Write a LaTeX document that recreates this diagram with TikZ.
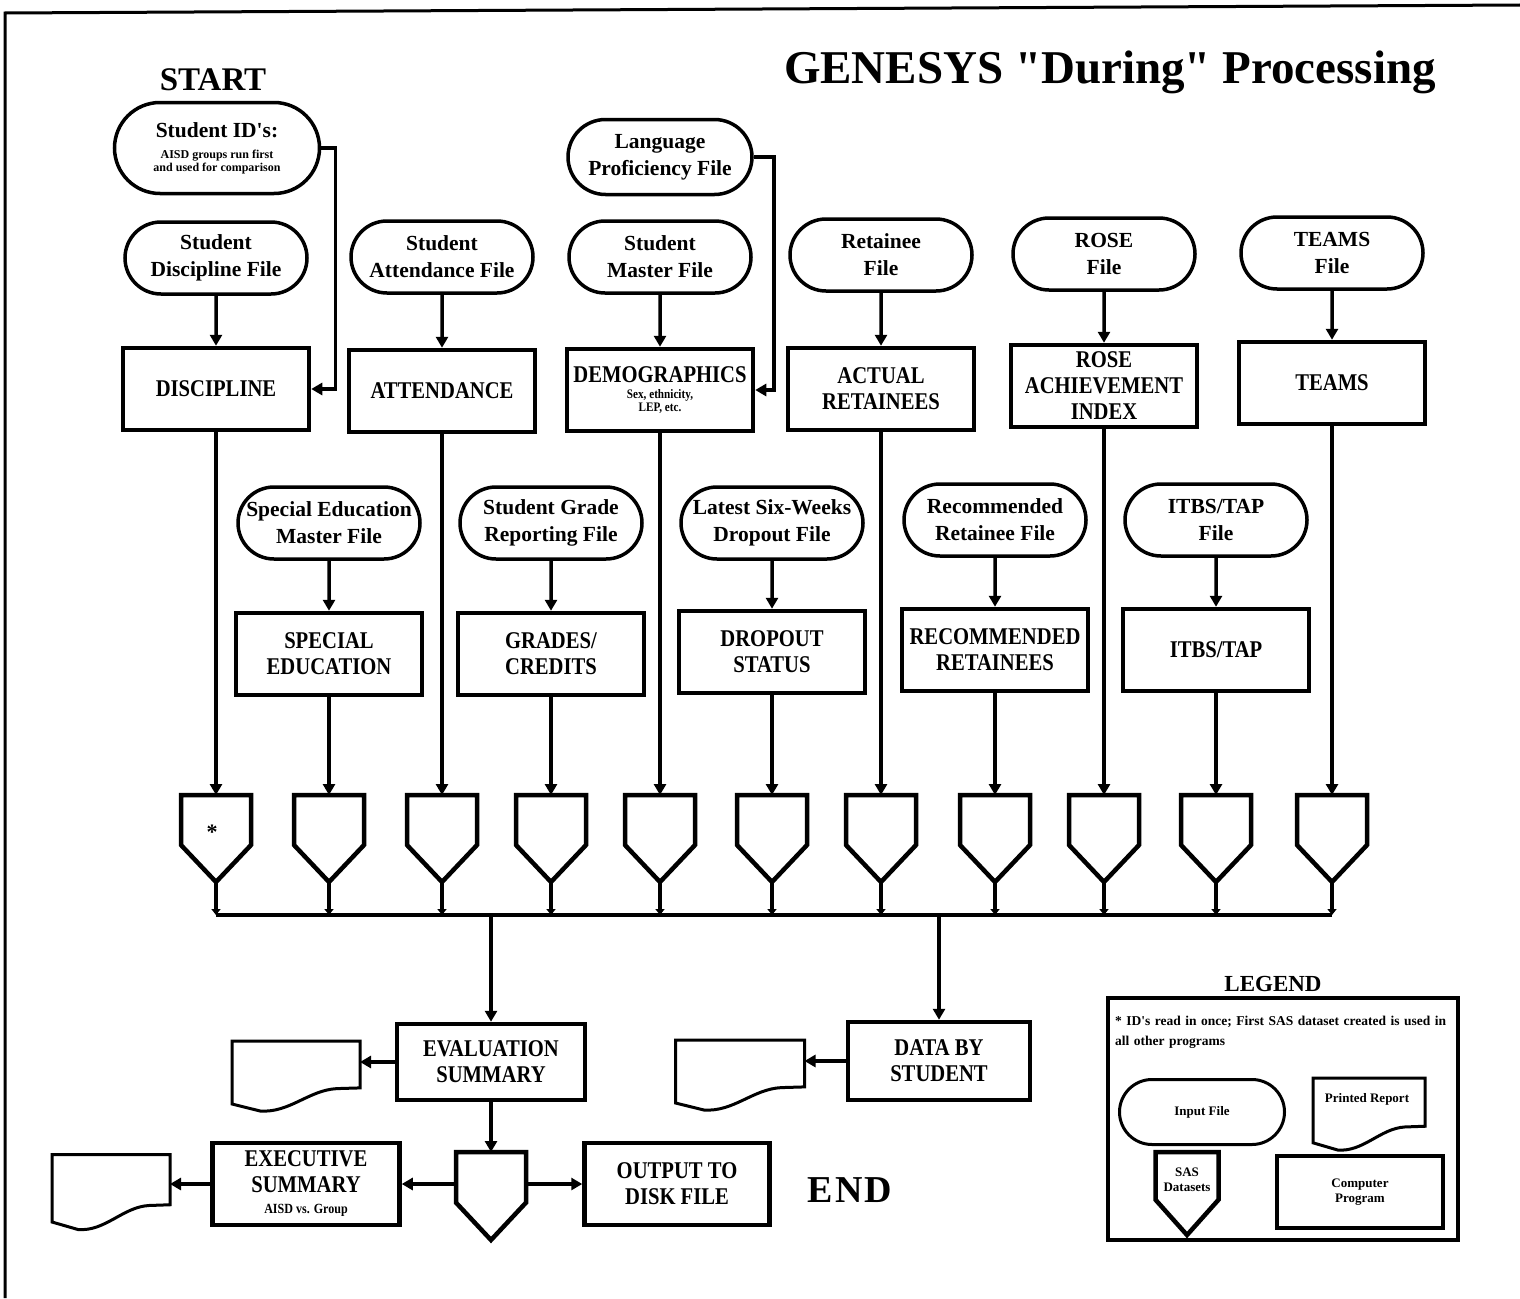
\documentclass[tikz,border=0pt]{standalone}
\usepackage{fontspec}
\setmainfont{Liberation Serif}
\newfontfamily\plainfont{Liberation Serif}
\newfontfamily\condfont[FakeStretch=0.86]{Liberation Serif}
\usetikzlibrary{shapes.misc,arrows.meta,calc}
\newcommand\smalltxt[2][12]{{\fontsize{#1}{#1}\selectfont #2}}
\newcommand\reportshape[3]{%
  \draw[repline, shift={(#1.north west)}, xscale=#2, yscale=#3]
    (0,0) -- (1,0) -- (1,0.67) -- (0.82,0.68)
    .. controls (0.6,0.70) and (0.45,1.03) .. (0.22,1.0) -- (0,0.9) -- cycle;}
\newcommand\datasetshape[3]{%
  \draw[dsline, shift={(#1.north west)}, xscale=#2, yscale=#3]
    (0,0) -- (1,0) -- (1,0.575) -- (0.5,1) -- (0,0.575) -- cycle;}
\tikzset{
  infile/.style={rounded rectangle, draw, line width=3.5pt, minimum width=182pt,
    minimum height=72pt, inner sep=0pt, align=center,
    font=\bfseries\fontsize{21.5}{27}\selectfont},
  prog/.style={rectangle, draw, line width=4.5pt, minimum width=186pt,
    minimum height=82pt, inner sep=0pt, align=center,
    font=\condfont\bfseries\fontsize{24}{26}\selectfont},
  holder/.style={rectangle, draw=none, inner sep=0pt, outer sep=0pt},
  conn/.style={line width=3.5pt, -{Triangle[length=11pt,width=12pt]}},
  smallconn/.style={line width=3.5pt, -{Triangle[length=6pt,width=9pt]}},
  plain/.style={line width=3.5pt},
  dsline/.style={line width=4.5pt, line join=miter},
  repline/.style={line width=3pt, line join=miter},
  legtext/.style={font=\bfseries\fontsize{13}{15}\selectfont},
}
\begin{document}
\plainfont
\begin{tikzpicture}[x=1pt,y=-1pt]
\useasboundingbox (0,0) rectangle (1520,1298);
\draw[line width=3pt] (5,1298) -- (5,13) -- (1520,5);

% titles
\node[font=\bfseries\fontsize{47}{50}\selectfont] (title) at (1110,72) {GENESYS "During" Processing};
\node[font=\bfseries\fontsize{33}{36}\selectfont] (start) at (213,80) {START};
\node[font=\bfseries\fontsize{38}{40}\selectfont] (endtxt) at (850,1190) {E\kern2pt N\kern2pt D};

% row 1 input files
\node[infile, minimum width=205pt, minimum height=91pt] (sid) at (217,148)
  {Student ID's:\\[-6pt]\smalltxt{AISD groups run first}\\[-14pt]\smalltxt{and used for comparison}};
\node[infile, minimum width=184pt, minimum height=75pt] (lang) at (660,157) {Language\\Proficiency File};
\node[infile] (disf) at (216,258) {Student\\Discipline File};
\node[infile] (attf) at (442,257) {Student\\Attendance File};
\node[infile] (mstf) at (660,257) {Student\\Master File};
\node[infile] (retf) at (881,255) {Retainee\\File};
\node[infile] (rosf) at (1104,254) {ROSE\\File};
\node[infile] (tmsf) at (1332,253) {TEAMS\\File};

% row 1 programs
\node[prog] (disc) at (216,389) {DISCIPLINE};
\node[prog] (att) at (442,391) {ATTENDANCE};
\node[prog] (demo) at (660,390) {DEMOGRAPHICS\\[-10pt]\smalltxt[13]{Sex, ethnicity,}\\[-13pt]\smalltxt[13]{LEP, etc.}};
\node[prog] (act) at (881,389) {ACTUAL\\RETAINEES};
\node[prog] (rose) at (1104,386) {ROSE\\ACHIEVEMENT\\INDEX};
\node[prog] (teams) at (1332,383) {TEAMS};

% row 2 input files
\node[infile] (spef) at (329,523) {Special Education\\Master File};
\node[infile] (grdf) at (551,523) {Student Grade\\Reporting File};
\node[infile] (drpf) at (772,523) {Latest Six-Weeks\\Dropout File};
\node[infile] (rrtf) at (995,520) {Recommended\\Retainee File};
\node[infile] (itbf) at (1216,520) {ITBS/TAP\\File};

% row 2 programs
\node[prog] (spe) at (329,654) {SPECIAL\\EDUCATION};
\node[prog] (grd) at (551,654) {GRADES/\\CREDITS};
\node[prog] (drp) at (772,652) {DROPOUT\\STATUS};
\node[prog] (rrt) at (995,650) {RECOMMENDED\\RETAINEES};
\node[prog] (itb) at (1216,650) {ITBS/TAP};

% datasets
\foreach \n/\x in {ds1/216, ds2/329, ds3/442, ds4/551, ds5/660, ds6/772,
                   ds7/881, ds8/995, ds9/1104, ds10/1216, ds11/1332}{
  \node[holder, minimum width=70pt, minimum height=87pt, anchor=north] (\n) at (\x,795) {};
  \datasetshape{\n}{70}{87}
}
\node[font=\bfseries\fontsize{22}{22}\selectfont] (star) at (212,832) {*};

% connectors file -> program
\draw[conn] (disf) -- (disc);
\draw[conn] (attf) -- (att);
\draw[conn] (mstf) -- (demo);
\draw[conn] (retf) -- (act);
\draw[conn] (rosf) -- (rose);
\draw[conn] (tmsf) -- (teams);
\draw[conn] (spef) -- (spe);
\draw[conn] (grdf) -- (grd);
\draw[conn] (drpf) -- (drp);
\draw[conn] (rrtf) -- (rrt);
\draw[conn] (itbf) -- (itb);
\draw[conn] (sid.east) -- ++(14,0) |- (disc.east);
\draw[conn] (lang.east) -- ++(20,0) |- (demo.east);

% program -> dataset
\draw[conn] (disc.south) -- (ds1.north);
\draw[conn] (spe.south) -- (ds2.north);
\draw[conn] (att.south) -- (ds3.north);
\draw[conn] (grd.south) -- (ds4.north);
\draw[conn] (demo.south) -- (ds5.north);
\draw[conn] (drp.south) -- (ds6.north);
\draw[conn] (act.south) -- (ds7.north);
\draw[conn] (rrt.south) -- (ds8.north);
\draw[conn] (rose.south) -- (ds9.north);
\draw[conn] (itb.south) -- (ds10.north);
\draw[conn] (teams.south) -- (ds11.north);

% bus
\coordinate (busL) at (216,915);
\coordinate (busR) at (1332,915);
\draw[plain] (busL) -- (busR);
\foreach \n in {ds1,ds2,ds3,ds4,ds5,ds6,ds7,ds8,ds9,ds10,ds11}{
  \draw[smallconn] (\n.south) -- (\n.south |- busL);
}

% lower section
\node[prog, minimum width=188pt, minimum height=76pt] (eval) at (491,1062) {EVALUATION\\SUMMARY};
\node[prog, minimum width=182pt, minimum height=78pt] (dbs) at (939,1061) {DATA BY\\STUDENT};
\coordinate (busE) at (491,915);
\coordinate (busD) at (939,915);
\draw[conn] (busE) -- (eval.north);
\draw[conn] (busD) -- (dbs.north);

\node[holder, minimum width=128pt, minimum height=70pt] (rep1) at (296,1076) {};
\reportshape{rep1}{128}{70}
\node[holder, minimum width=129pt, minimum height=70pt] (rep2) at (740,1075) {};
\reportshape{rep2}{129}{70}
\draw[conn] (eval.west) -- (eval.west -| rep1.east);
\draw[conn] (dbs.west) -- (dbs.west -| rep2.east);

\node[holder, minimum width=70pt, minimum height=88pt, anchor=north] (ds12) at (491,1152) {};
\datasetshape{ds12}{70}{88}
\draw[conn] (eval.south) -- (ds12.north);

\node[prog, minimum width=187pt, minimum height=82pt] (exec) at (306,1184)
  {EXECUTIVE\\SUMMARY\\[-5pt]\smalltxt[14]{AISD vs. Group}};
\node[prog, minimum width=185pt, minimum height=82pt] (outp) at (677,1184) {OUTPUT TO\\DISK FILE};
\node[holder, minimum width=118pt, minimum height=75pt] (rep3) at (111,1192) {};
\reportshape{rep3}{118}{75}
\draw[conn] (ds12.west |- exec.east) -- (exec.east);
\draw[conn] (ds12.east |- outp.west) -- (outp.west);
\draw[conn] (exec.west) -- (exec.west -| rep3.east);

% legend
\node[font=\bfseries\fontsize{23}{25}\selectfont] (legt) at (1273,984) {LEGEND};
\node[draw, line width=4.5pt, minimum width=350pt, minimum height=242pt] (legbox) at (1283,1119) {};
\node[anchor=north west, text width=336pt, align=left, inner sep=0pt,
      font=\bfseries\fontsize{13.5}{20}\selectfont] (legnote) at (1115,1016)
  {* ID's read in once; First SAS dataset created is used in all other programs};
\node[infile, minimum width=165pt, minimum height=65pt, line width=3pt, legtext] (leginput) at (1202,1112) {Input File};
\node[holder, minimum width=112pt, minimum height=72pt] (legrep) at (1369,1114) {};
\reportshape{legrep}{112}{72}
\node[legtext] (legreptxt) at (1367,1099) {Printed Report};
\node[holder, minimum width=63pt, minimum height=83pt, anchor=north] (legds) at (1187,1152) {};
\datasetshape{legds}{63}{83}
\node[align=center, legtext] (legdstxt) at (1187,1180) {SAS\\Datasets};
\node[prog, minimum width=166pt, minimum height=72pt, legtext]
  (legprog) at (1360,1192) {Computer\\Program};
\end{tikzpicture}
\end{document}
